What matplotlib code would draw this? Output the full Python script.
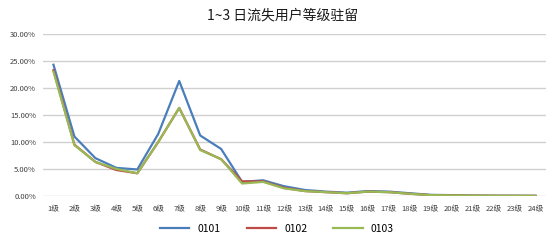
import matplotlib
matplotlib.use("Agg")
import matplotlib.pyplot as plt
from matplotlib.ticker import PercentFormatter

plt.rcParams['font.family'] = ['Noto Sans CJK SC', 'DejaVu Sans']

# --------------------------------------
# data (percent)
# --------------------------------------
levels = [f"{i}级" for i in range(1, 25)]
s0101 = [24.3, 11.0, 7.0, 5.2, 4.9, 11.5, 21.3, 11.2, 8.7, 2.6, 2.9, 1.8,
         1.1, 0.8, 0.6, 0.9, 0.8, 0.5, 0.2, 0.15, 0.06, 0.04, 0.03, 0.02]
s0102 = [23.3, 9.5, 6.3, 4.8, 4.2, 10.0, 16.3, 8.6, 6.8, 2.7, 2.7, 1.5,
         0.9, 0.7, 0.5, 0.8, 0.7, 0.4, 0.15, 0.1, 0.05, 0.03, 0.02, 0.01]
s0103 = [23.0, 9.4, 6.3, 5.0, 4.2, 10.0, 16.3, 8.5, 6.8, 2.3, 2.6, 1.4,
         0.9, 0.7, 0.5, 0.8, 0.7, 0.4, 0.15, 0.1, 0.05, 0.03, 0.02, 0.01]

series = {"0101": (s0101, "#4A7EBB"),
          "0102": (s0102, "#BE4B48"),
          "0103": (s0103, "#98B954")}

# --------------------------------------
# plot
# --------------------------------------
fig = plt.figure(figsize=(5.54, 2.41), dpi=100)
ax = fig.add_axes([0.0776, 0.187, 0.908, 0.672])

x = range(len(levels))
for name, (vals, col) in series.items():
    ax.plot(x, [v / 100 for v in vals], color=col, linewidth=1.6, label=name)

ax.set_xlim(-0.5, len(levels) - 0.5)
ax.set_ylim(0, 0.30)
ax.set_yticks([0, 0.05, 0.10, 0.15, 0.20, 0.25, 0.30])
ax.yaxis.set_major_formatter(PercentFormatter(1.0, decimals=2))
ax.set_xticks(list(x))
ax.set_xticklabels(levels)
ax.tick_params(axis='both', length=0, labelsize=5.5, labelcolor='#404040')
ax.tick_params(axis='x', pad=7)
ax.tick_params(axis='y', pad=5)
ax.grid(axis='y', color='#D0D0D0', linewidth=1.0)
ax.set_axisbelow(True)
for sp in ax.spines.values():
    sp.set_visible(False)

fig.text(0.51, 0.935, "1~3 日流失用户等级驻留", ha='center', va='center',
         fontsize=10, color='#1a1a1a')

fig.legend(loc='center', bbox_to_anchor=(0.5, 0.05), ncol=3, frameon=False,
           fontsize=7.5, handlelength=2.8, columnspacing=2.5, handletextpad=0.8)

fig.savefig("out.png", dpi=100)
